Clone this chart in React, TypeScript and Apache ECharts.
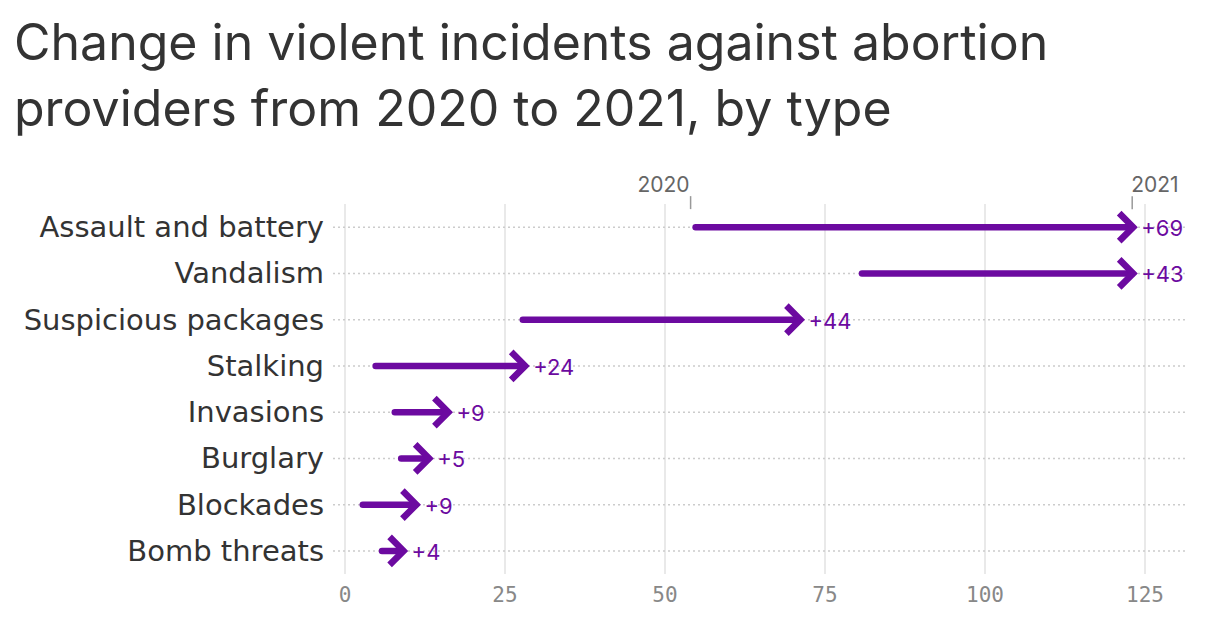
import React, { useEffect, useRef } from "react";
import * as echarts from "echarts";

const categories = [
  "Assault and battery",
  "Vandalism",
  "Suspicious packages",
  "Stalking",
  "Invasions",
  "Burglary",
  "Blockades",
  "Bomb threats",
];
const values2020 = [54, 80, 27, 4, 7, 8, 2, 5];
const values2021 = [123, 123, 71, 28, 16, 13, 11, 9];
const yearLabels = ["2020", "2021"];
const titleText =
  "Change in violent incidents against abortion\nproviders from 2020 to 2021, by type";

const PURPLE = "#6c0aa0";

export default function App() {
  const ref = useRef<HTMLDivElement>(null);
  useEffect(() => {
    if (!ref.current) return;
    const chart = echarts.init(ref.current, null, { renderer: "svg" });
    const data = categories.map((c, i) => [
      i,
      values2020[i],
      values2021[i],
      values2021[i] - values2020[i],
    ]);
    const option: any = {
      animation: false,
      title: {
        text: titleText,
        left: 9,
        top: 4,
        textStyle: {
          fontFamily: "Inter",
          fontSize: 50,
          fontWeight: 400,
          color: "#333333",
          lineHeight: 66,
        },
      },
      grid: { left: 345, right: 75, top: 204, height: 370 },
      xAxis: {
        type: "value",
        min: 0,
        max: 125,
        interval: 25,
        axisLine: { show: false },
        axisTick: { show: false },
        axisLabel: {
          color: "#888888",
          fontFamily: "DejaVu Sans Mono",
          fontSize: 21,
          margin: 10,
        },
        splitLine: { show: true, lineStyle: { color: "#e2e2e2", width: 1.5 } },
      },
      yAxis: {
        type: "category",
        data: categories,
        inverse: true,
        axisLine: { show: false },
        axisTick: { show: false },
        splitLine: { show: false },
        axisLabel: {
          color: "#333333",
          fontFamily: "DejaVu Sans",
          fontSize: 29,
          margin: 21,
        },
      },
      series: [
        {
          type: "custom",
          data: data,
          encode: { x: [1, 2], y: 0 },
          clip: false,
          renderItem: (params: any, api: any) => {
            const cs = params.coordSys;
            const idx = api.value(0);
            const p0 = api.coord([api.value(1), idx]);
            const p1 = api.coord([api.value(2), idx]);
            const y = p0[1];
            const tip = p1[0] + 3;
            const children: any[] = [
              {
                type: "line",
                shape: { x1: cs.x - 12, y1: y, x2: cs.x + cs.width + 42, y2: y },
                style: { stroke: "#cccccc", lineWidth: 1.5, lineDash: [2, 3] },
              },
              {
                type: "line",
                shape: { x1: p0[0] + 5, y1: y, x2: tip - 3, y2: y },
                style: { stroke: PURPLE, lineWidth: 6.5, lineCap: "round" },
              },
              {
                type: "polyline",
                shape: {
                  points: [
                    [tip - 16, y - 14],
                    [tip - 2, y],
                    [tip - 16, y + 14],
                  ],
                },
                style: {
                  stroke: PURPLE,
                  fill: "none",
                  lineWidth: 6.5,
                  lineJoin: "miter",
                  lineCap: "butt",
                },
              },
              {
                type: "text",
                x: tip + 6,
                y: y + 1,
                style: {
                  text: "+" + api.value(3),
                  fill: PURPLE,
                  fontFamily: "Inter",
                  fontSize: 22,
                  verticalAlign: "middle",
                  align: "left",
                },
              },
            ];
            if (params.dataIndex === 0) {
              children.push(
                {
                  type: "line",
                  shape: { x1: p0[0], y1: y - 31, x2: p0[0], y2: y - 18 },
                  style: { stroke: "#999999", lineWidth: 1.5 },
                },
                {
                  type: "line",
                  shape: { x1: p1[0], y1: y - 31, x2: p1[0], y2: y - 18 },
                  style: { stroke: "#999999", lineWidth: 1.5 },
                },
                {
                  type: "text",
                  x: p0[0] - 1,
                  y: y - 32,
                  style: {
                    text: yearLabels[0],
                    fill: "#666666",
                    fontFamily: "Inter",
                    fontSize: 21,
                    align: "right",
                    verticalAlign: "bottom",
                  },
                },
                {
                  type: "text",
                  x: p1[0] - 1,
                  y: y - 32,
                  style: {
                    text: yearLabels[1],
                    fill: "#666666",
                    fontFamily: "Inter",
                    fontSize: 21,
                    align: "left",
                    verticalAlign: "bottom",
                  },
                }
              );
            }
            return { type: "group", children };
          },
        },
      ],
    };
    chart.setOption(option);
    return () => chart.dispose();
  }, []);
  return (
    <div
      ref={ref}
      style={{ position: "fixed", left: 0, top: 0, width: 1220, height: 618, background: "#fff" }}
    />
  );
}
